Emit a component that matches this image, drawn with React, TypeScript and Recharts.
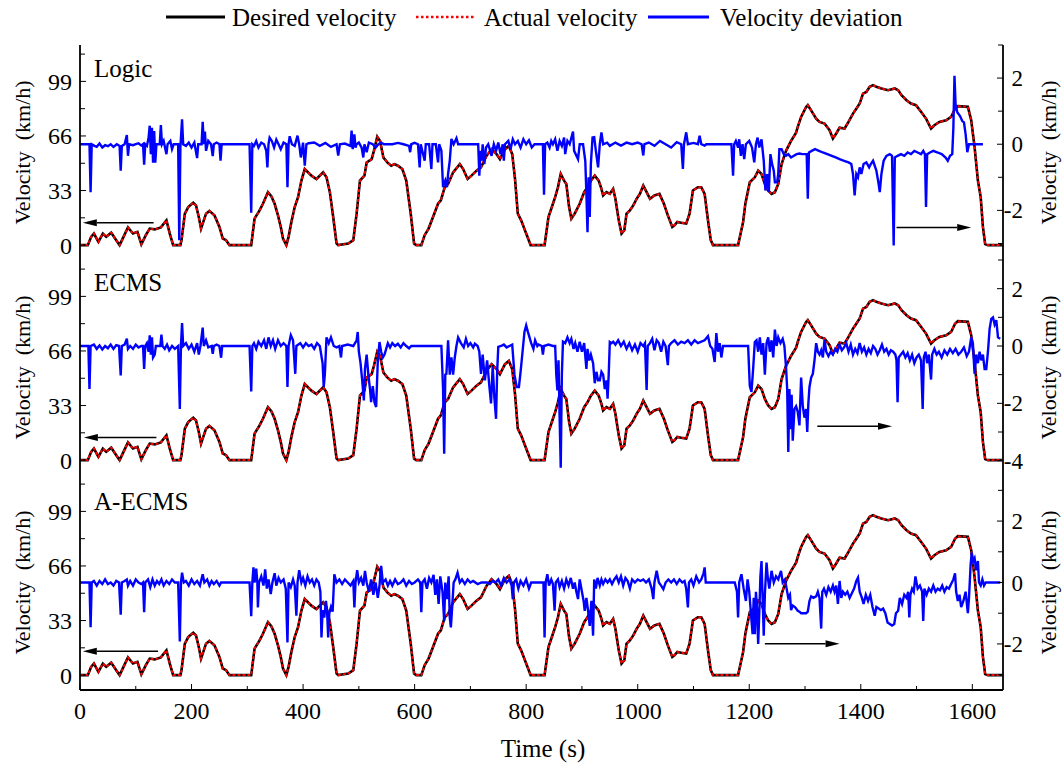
import React from 'react'
import { ComposedChart, Line, XAxis, YAxis, ReferenceLine } from 'recharts'

// axis ticks
const timeTicks = [0, 100, 200, 300, 400, 500, 600, 700, 800, 900, 1000, 1100, 1200, 1300, 1400, 1500, 1600]
const timeLabels = [0, 200, 400, 600, 800, 1000, 1200, 1400, 1600]
const speedTicks = [0, 16.5, 33, 49.5, 66, 82.5, 99, 115.5]
const speedLabels = [0, 33, 66, 99]
const panelNames = ['Logic', 'ECMS', 'A-ECMS']
const deviationDomains: [number, number][] = [[-3.5, 3], [-4.5, 3], [-3.5, 3.5]]
const deviationTicks = [
  [-3, -2, -1, 0, 1, 2, 3],
  [-4, -3, -2, -1, 0, 1, 2, 3],
  [-3, -2, -1, 0, 1, 2, 3],
]
const deviationLabels = [[-2, 0, 2], [-4, -2, 0, 2], [-2, 0, 2]]

// desired velocity (km/h) over time (s); the actual velocity tracks it
const speedProfile: [number, number][] = [
  [0, 0], [14, 0], [20, 5], [25, 7], [33, 2], [41, 7], [47, 5], [56, 7.5], [65, 3], [71, 0], [78, 5], [86, 10.7],
  [95, 7], [103, 8], [110, 0.5], [118, 6], [125, 10], [134, 9.5], [145, 10.7], [155, 15], [161, 7], [167, 0],
  [180, 0], [182, 3], [188, 19], [194, 23], [203, 25.6], [208, 24], [213, 17], [217, 10], [226, 19], [232, 20.7],
  [241, 18], [250, 11], [256, 4], [262, 3], [268, 0], [307, 0], [313, 16], [322, 21], [328, 25], [337, 32],
  [343, 29.6], [349, 25], [355, 18], [360, 11], [364, 4], [370, 0], [374, 5], [379, 14], [385, 23], [391, 29],
  [397, 39], [403, 46], [415, 42], [424, 40], [436, 44], [442, 41], [448, 32], [454, 17], [460, 1], [463, 0],
  [481, 1], [490, 3], [496, 19], [502, 39], [510, 42], [514, 50], [523, 52], [527, 57], [533, 65.5], [538, 63],
  [544, 53], [551, 50], [558, 48], [564, 49], [570, 48], [578, 46], [585, 39], [593, 19], [599, 1], [603, 0],
  [612, 0], [618, 6], [625, 10], [633, 17], [642, 25], [647, 27], [654, 35], [660, 37], [669, 44], [681, 49],
  [687, 46], [695, 40], [702, 42], [711, 45], [719, 47], [729, 54], [738, 58], [747, 55], [753, 52], [762, 58],
  [769, 60], [775, 55], [780, 40], [785, 19], [791, 15], [800, 7], [808, 0], [833, 0], [840, 17], [848, 25],
  [852, 29], [857, 35], [862, 43], [868, 39], [872, 37], [877, 23], [881, 16], [887, 19], [896, 25], [904, 32],
  [910, 35], [916, 39], [923, 42], [930, 39], [935, 34], [938, 30], [944, 32], [950, 31], [956, 34], [960, 28],
  [966, 15], [971, 7], [976, 9], [980, 19], [986, 21], [992, 24], [998, 28], [1004, 31], [1010, 36], [1016, 32],
  [1022, 28], [1030, 30], [1039, 31], [1047, 25], [1054, 18], [1062, 11], [1066, 12], [1071, 14], [1078, 13.5],
  [1087, 13], [1093, 19], [1099, 33], [1108, 35], [1114, 35], [1120, 31], [1126, 15], [1131, 3], [1135, 0],
  [1180, 0], [1189, 14], [1193, 25], [1201, 38], [1210, 41], [1216, 45], [1222, 43], [1228, 37], [1234, 33],
  [1240, 31], [1246, 32], [1252, 37], [1258, 49], [1266, 57], [1275, 63], [1284, 68], [1287, 71.5], [1293, 77.5],
  [1302, 83.5], [1305, 84.6], [1311, 81.5], [1320, 76.5], [1326, 74.5], [1335, 73.5], [1344, 69.5], [1350, 64.5],
  [1356, 67.5], [1362, 71], [1371, 70.5], [1378, 74.5], [1386, 79.5], [1392, 82.5], [1398, 85.6], [1404, 91.6],
  [1410, 92.6], [1416, 95.7], [1422, 96.7], [1428, 95.7], [1437, 94.7], [1449, 93.7], [1461, 94.7], [1467, 93.7],
  [1473, 90.6], [1482, 87.6], [1490, 85.6], [1499, 84.6], [1508, 80.6], [1517, 76.5], [1526, 70.5], [1532, 72.5],
  [1541, 74.5], [1553, 75.5], [1562, 77.5], [1569, 82.5], [1574, 84], [1592, 83.6], [1598, 75.5], [1604, 59.4],
  [1610, 39], [1615, 29], [1619, 11], [1623, 0.6], [1628, 0], [1655, 0],
]

// velocity deviation (km/h), one list per strategy
const logicDeviation: [number, number][] = [
  [0, 0], [17, 0], [19, -1.45], [21, 0], [26, -0.05], [30, -0.08], [35, 0.02], [40, -0.1], [45, -0.03], [50, -0.06],
  [55, 0], [60, -0.08], [66, 0], [71, -0.05], [73, -0.8], [75, -0.05], [80, 0], [84, 0.28], [86, -0.35], [88, 0],
  [95, -0.03], [100, 0], [105, 0.03], [110, -0.04], [113, 0], [115, -0.62], [117, 0], [120, -0.05], [123, 0.2],
  [125, 0.56], [127, -0.3], [129, 0.5], [131, -0.56], [133, 0.4], [135, -0.56], [137, 0], [143, 0], [145, 0.58],
  [147, 0], [150, 0.1], [155, -0.3], [157, 0], [162, 0.1], [165, -0.15], [168, 0], [176, 0], [178, -2.9],
  [180, -0.1], [183, 0.75], [185, 0], [190, -0.05], [195, 0.05], [200, -0.1], [205, 0.05], [210, -0.42], [212, 0],
  [218, 0], [220, 0.68], [222, 0], [224, 0.38], [226, -0.2], [230, 0.1], [235, 0], [238, -0.36], [240, 0],
  [245, 0.05], [250, 0], [252, -0.5], [254, 0], [304, 0], [307, -2.07], [309, 0], [312, -0.05], [316, 0.1],
  [320, -0.1], [325, 0.05], [330, 0], [334, -0.2], [336, -0.7], [338, 0], [340, 0.2], [344, 0.1], [348, -0.1],
  [352, 0.14], [356, 0], [360, -0.15], [365, 0.05], [370, 0], [372, -1.3], [374, 0], [376, 0.24], [380, 0],
  [385, -0.05], [390, 0.26], [393, 0], [396, -0.4], [400, 0.05], [403, -0.65], [406, 0], [410, 0.03], [420, 0.05],
  [430, -0.05], [440, 0.04], [450, -0.08], [460, 0], [463, -0.34], [466, 0], [475, 0.02], [485, -0.05], [487, 0.41],
  [489, -0.15], [492, 0.3], [494, -0.1], [496, 0], [500, 0.05], [505, -0.1], [508, -0.4], [510, 0], [514, -0.24],
  [518, 0.05], [525, 0], [530, -0.1], [535, 0], [540, 0.05], [545, 0], [560, 0], [570, 0.04], [580, 0], [590, -0.05],
  [592, -0.24], [594, 0], [600, 0.04], [606, 0], [609, -0.7], [611, 0], [618, -0.5], [620, 0], [626, 0], [630, -0.75],
  [632, 0], [638, 0], [642, -0.55], [644, 0], [648, -0.2], [651, -1.3], [655, -1.1], [658, -1.3], [660, -0.9],
  [663, -0.5], [666, 0.16], [670, 0], [675, 0.18], [678, 0], [714, 0], [716, -0.95], [718, -0.2], [720, -0.5],
  [722, 0], [725, -0.6], [728, -0.1], [732, 0], [738, -0.35], [742, 0], [746, -0.2], [750, 0.05], [754, -0.3],
  [758, 0], [760, -0.5], [762, 0], [768, 0.1], [772, -0.15], [776, 0.15], [780, 0], [785, 0.1], [790, -0.1],
  [795, 0.15], [800, 0], [805, 0.12], [810, -0.1], [815, 0], [830, 0], [832, -1.53], [834, 0], [838, 0.05],
  [842, -0.1], [845, 0.1], [848, 0], [852, 0.15], [856, -0.2], [860, 0.1], [864, -0.05], [868, 0.2], [870, -0.3],
  [874, 0.1], [878, 0], [884, 0.38], [886, -0.2], [893, -0.45], [896, 0], [902, 0], [906, -0.5], [908, -1.5],
  [910, -2.66], [912, -1.0], [914, -2.2], [916, -0.6], [919, 0.2], [922, 0.21], [925, -0.2], [929, -0.7], [932, 0],
  [935, 0.36], [938, 0], [945, 0.05], [950, -0.05], [960, 0.05], [970, -0.04], [980, 0.05], [990, 0], [1000, 0.05],
  [1007, 0], [1010, -0.34], [1012, 0], [1020, 0.05], [1030, -0.05], [1040, 0.1], [1050, 0], [1060, -0.1],
  [1070, 0.06], [1078, 0], [1081, -0.75], [1083, 0], [1087, 0.36], [1090, 0], [1100, 0.04], [1108, 0], [1111, 0.26],
  [1114, 0], [1120, -0.04], [1123, 0], [1168, 0], [1171, -0.95], [1173, 0], [1176, 0.1], [1180, -0.1], [1182, 0.15],
  [1185, -0.35], [1188, 0], [1191, -0.45], [1194, 0], [1200, 0.1], [1205, -0.1], [1209, -0.55], [1212, 0],
  [1215, 0.2], [1218, -0.1], [1222, 0.15], [1226, -0.5], [1229, -1.4], [1232, -0.9], [1235, -1.45], [1238, -0.3],
  [1241, -0.6], [1244, -0.8], [1246, -1.15], [1250, -1.15], [1252, -0.9], [1254, -0.15], [1258, -0.15],
  [1262, -0.3], [1266, -0.35], [1270, -0.3], [1275, -0.4], [1280, -0.35], [1285, -0.3], [1290, -0.28], [1295, -0.3],
  [1300, -0.3], [1303, -0.3], [1305, -1.65], [1307, -0.25], [1312, -0.2], [1318, -0.15], [1325, -0.2], [1332, -0.25],
  [1340, -0.3], [1348, -0.35], [1355, -0.4], [1362, -0.45], [1370, -0.5], [1378, -0.55], [1383, -0.6], [1386, -0.9],
  [1389, -1.55], [1392, -0.9], [1395, -1.0], [1398, -0.7], [1401, -0.9], [1405, -0.6], [1410, -0.55], [1415, -0.7],
  [1418, -0.6], [1422, -0.5], [1428, -0.8], [1432, -1.2], [1434, -1.45], [1437, -0.9], [1441, -0.5], [1446, -0.35],
  [1452, -0.3], [1456, -0.35], [1459, -3.06], [1461, -0.4], [1466, -0.35], [1472, -0.3], [1478, -0.35],
  [1484, -0.25], [1490, -0.3], [1496, -0.2], [1502, -0.25], [1508, -0.3], [1512, -0.2], [1515, -0.3], [1517, -1.9],
  [1519, -0.3], [1524, -0.25], [1530, -0.2], [1538, -0.25], [1545, -0.3], [1552, -0.4], [1556, -0.5], [1560, -0.35],
  [1564, -0.3], [1566, 0.5], [1568, 2.07], [1570, 1.2], [1573, 0.97], [1578, 0.85], [1582, 0.7], [1585, 0.66],
  [1588, 0.3], [1591, -0.24], [1594, 0], [1619, 0],
]

const ecmsDeviation: [number, number][] = [
  [0, 0], [15, 0], [17, -1.5], [19, 0], [25, 0.05], [30, -0.1], [35, 0.02], [40, -0.12], [45, 0], [50, -0.08],
  [55, 0.05], [60, -0.1], [65, 0.03], [70, 0], [73, -1.03], [75, 0], [80, 0.05], [84, 0.26], [86, -0.1], [90, 0],
  [95, -0.1], [100, 0.05], [105, -0.05], [110, 0], [113, 0], [115, -0.8], [117, 0], [120, 0.1], [123, -0.2],
  [125, 0.37], [127, -0.3], [129, 0.3], [131, -0.4], [134, -0.3], [136, 0], [144, 0], [146, 0.4], [148, 0],
  [152, -0.1], [156, 0.05], [160, -0.15], [165, 0], [170, -0.1], [176, 0], [179, -2.2], [181, 0], [183, 0.8],
  [185, 0], [190, 0.1], [195, -0.1], [200, 0.05], [205, -0.2], [210, 0.1], [213, -0.3], [216, 0], [220, 0.64],
  [222, 0], [226, 0.2], [230, -0.05], [236, 0], [238, -0.27], [240, 0], [245, 0.05], [250, 0], [253, -0.41],
  [255, 0], [304, 0], [307, -1.59], [309, 0], [312, 0.1], [316, -0.1], [320, 0.15], [325, 0], [330, 0.2],
  [334, -0.1], [338, 0.3], [342, 0], [346, 0.2], [350, -0.1], [355, 0.2], [360, 0], [365, 0.1], [370, 0],
  [372, -1.43], [374, 0], [378, 0.38], [382, 0.2], [386, -0.97], [388, 0], [395, 0.1], [400, -0.05], [405, 0.1],
  [410, 0], [415, 0.05], [420, -0.1], [425, 0.1], [430, 0], [435, -0.6], [437, -1.43], [439, -1.0], [442, 0.3],
  [446, 0.1], [450, 0.3], [455, 0], [460, -0.05], [465, 0], [468, -0.4], [470, 0], [480, 0.05], [490, 0],
  [496, 0.2], [498, 0.49], [500, -0.2], [503, -0.6], [506, -1.2], [509, -1.9], [511, -0.8], [514, -0.3],
  [517, -1.0], [520, -1.5], [522, -1.96], [525, -1.4], [528, -1.96], [531, -2.13], [534, -0.5], [537, 0.14],
  [540, -0.2], [543, -0.4], [546, -0.3], [549, -0.1], [552, 0.1], [556, -0.05], [560, 0.1], [565, 0], [570, 0.08],
  [575, -0.05], [580, 0.1], [585, 0], [590, -0.08], [594, 0], [648, 0], [651, -1.5], [653, -3.76], [655, -1.0],
  [657, -0.97], [660, 0.2], [663, -1.0], [666, -0.4], [669, -1.0], [672, -0.4], [675, 0], [678, 0.3], [683, 0.1],
  [688, -0.05], [692, 0.25], [696, 0], [700, 0.1], [705, -0.05], [708, 0.08], [713, 0], [716, -0.2], [719, -0.97],
  [722, -0.3], [726, -1.2], [730, -0.5], [734, -1.4], [737, -2.0], [740, -0.7], [743, -1.8], [746, -2.54],
  [748, -0.9], [750, -0.03], [755, 0], [760, 0.05], [765, -0.05], [770, 0], [775, 0.05], [779, -1.0], [783, -1.43],
  [787, -1.43], [790, -0.9], [793, -0.3], [797, 0.5], [800, 0.72], [803, 0.5], [806, 0.3], [809, 0.1], [813, -0.1],
  [816, 0.2], [820, 0], [822, 0.05], [828, 0], [830, -0.3], [832, 0], [840, 0.05], [848, 0], [852, 0], [854, -1.0],
  [856, -1.55], [858, -0.5], [860, -2.5], [862, -4.25], [864, -1.0], [866, 0.15], [870, 0.1], [874, 0.3],
  [878, 0.1], [881, 0.25], [885, -0.1], [888, 0.1], [892, -0.2], [896, 0.15], [900, -0.2], [904, 0.1], [908, -0.8],
  [910, -0.1], [913, -0.5], [916, -0.3], [920, -0.6], [923, -1.3], [926, -0.9], [929, -1.2], [932, -1.2],
  [935, -0.9], [938, -1.0], [941, -1.5], [944, -1.2], [946, -1.84], [948, -1.0], [950, 0.14], [953, 0.1],
  [956, 0.15], [960, 0.05], [965, 0.2], [970, 0], [975, 0.15], [980, -0.1], [985, 0.1], [990, -0.15], [995, 0.05],
  [1000, -0.2], [1005, 0.1], [1010, 0], [1013, 0.1], [1016, -1.53], [1018, 0], [1022, 0.1], [1026, 0.25],
  [1030, -0.15], [1034, 0.2], [1038, 0.1], [1042, -0.2], [1046, 0.15], [1050, 0], [1054, -0.67], [1056, 0],
  [1060, 0.1], [1066, 0.2], [1072, 0.05], [1078, 0.15], [1084, 0.1], [1090, 0.2], [1096, 0.05], [1102, 0.2],
  [1108, 0.1], [1114, 0.15], [1120, 0.2], [1126, 0.34], [1130, 0], [1134, -0.1], [1138, -0.56], [1141, 0.45],
  [1144, -0.2], [1147, 0.1], [1150, -0.4], [1153, 0], [1198, 0], [1201, -1.4], [1204, -1.6], [1207, -0.8],
  [1210, 0.14], [1213, 0.2], [1216, -0.2], [1219, 0.3], [1222, -0.3], [1225, 0.1], [1228, -1.0], [1231, 0.1],
  [1234, 0.3], [1237, -0.2], [1240, 0.2], [1243, -0.4], [1246, 0.57], [1249, 0], [1252, 0.3], [1256, 0.1],
  [1260, 0.25], [1263, 0], [1266, -0.75], [1268, -1.5], [1270, -3.7], [1272, -1.5], [1274, -2.9], [1276, -1.7],
  [1278, -3.3], [1281, -2.2], [1284, -2.1], [1287, -2.3], [1290, -2.77], [1293, -1.1], [1296, -2.1], [1299, -2.5],
  [1302, -2.2], [1304, -3.0], [1306, -2.0], [1308, -1.43], [1311, -1.1], [1314, -0.97], [1317, -0.5], [1320, 0.1],
  [1323, -0.2], [1326, -0.3], [1329, -0.15], [1332, -0.4], [1335, 0.22], [1338, -0.2], [1342, -0.35], [1346, -0.2],
  [1350, -0.3], [1354, -0.1], [1358, -0.2], [1362, 0.05], [1366, -0.15], [1370, -0.05], [1374, 0.1], [1378, -0.2],
  [1382, 0.05], [1386, -0.3], [1390, -0.1], [1394, -0.25], [1398, 0.1], [1402, -0.2], [1406, -0.05], [1410, -0.3],
  [1414, -0.1], [1418, -0.25], [1422, 0], [1426, -0.1], [1430, -0.3], [1434, -0.15], [1438, 0.05], [1442, -0.2],
  [1446, -0.1], [1450, -0.3], [1454, -0.15], [1458, -0.2], [1462, -0.3], [1464, -0.5], [1466, -1.96], [1468, -0.4],
  [1472, -0.3], [1476, -0.2], [1480, -0.4], [1484, -0.25], [1488, -0.5], [1492, -0.3], [1496, -0.6], [1500, -0.4],
  [1504, -0.3], [1508, -0.5], [1511, -2.2], [1513, -0.4], [1516, -0.2], [1519, -0.6], [1522, -0.3], [1526, -1.17],
  [1528, -0.3], [1532, -0.1], [1536, -0.3], [1540, -0.2], [1545, -0.4], [1550, -0.15], [1555, -0.3], [1560, -0.1],
  [1565, -0.25], [1570, -0.1], [1575, -0.3], [1580, -0.2], [1585, -0.05], [1590, -0.35], [1594, -0.2], [1598, 0.3],
  [1601, 0.1], [1604, -0.97], [1607, -0.3], [1610, -0.6], [1613, -0.2], [1616, -0.5], [1619, -0.3], [1622, -0.8],
  [1625, -0.8], [1628, -0.2], [1631, 0.6], [1634, 0.95], [1637, 1.0], [1640, 0.75], [1643, 0.9], [1646, 0.3],
  [1650, 0.25],
]

const aecmsDeviation: [number, number][] = [
  [0, 0], [17, 0], [19, -1.46], [21, 0], [25, 0.05], [30, -0.1], [35, 0.05], [40, -0.05], [45, 0.1], [50, -0.05],
  [55, 0], [60, -0.1], [65, 0.05], [70, 0], [73, -1.05], [75, 0], [80, 0.05], [84, 0.1], [86, -0.1], [90, 0.05],
  [95, -0.1], [100, 0.1], [105, 0], [110, -0.05], [113, 0], [115, -0.97], [117, 0], [122, 0.1], [126, -0.15],
  [130, 0.1], [134, -0.1], [138, 0.05], [142, -0.05], [146, 0.1], [150, -0.1], [155, 0.05], [160, -0.05],
  [165, 0.1], [170, 0], [176, 0], [179, -1.92], [181, 0], [183, 0.32], [186, 0], [190, 0.05], [195, -0.1],
  [200, 0.1], [205, -0.05], [210, 0.05], [215, -0.1], [220, 0.27], [223, 0], [228, 0.1], [232, -0.1], [236, 0.05],
  [240, -0.05], [245, 0.05], [250, -0.1], [253, 0], [304, 0], [307, -1.1], [309, 0], [311, 0.49], [313, 0],
  [316, 0.45], [318, 0], [319, -0.81], [321, 0], [325, 0.2], [329, -0.1], [332, 0.43], [335, -0.2], [338, 0.1],
  [342, -0.38], [345, 0], [349, 0.3], [352, -0.1], [356, 0.15], [360, 0], [365, 0.1], [369, -0.2], [372, -1.95],
  [374, 0], [378, -0.15], [382, 0.1], [385, -0.1], [388, -1.08], [390, 0], [393, 0.4], [397, 0], [400, 0.15],
  [404, -0.1], [408, 0.2], [412, 0], [416, 0.1], [420, -0.1], [424, 0.1], [428, 0], [431, -0.3], [433, -1.79],
  [435, -0.9], [438, -1.14], [441, -0.6], [443, -0.92], [445, -1.79], [447, -1.0], [450, -0.8], [453, -0.95],
  [456, 0.27], [460, 0], [465, 0.1], [470, -0.05], [475, 0.1], [480, 0], [485, -0.1], [490, 0.05], [492, -0.81],
  [494, 0], [497, 0.4], [500, 0], [504, 0.15], [508, -0.1], [511, 0.38], [514, 0], [518, -0.3], [522, 0.1],
  [526, -0.4], [530, 0], [534, -0.5], [537, -0.1], [540, 0.54], [543, 0], [548, 0.1], [552, -0.1], [556, 0.05],
  [560, -0.1], [565, 0.1], [570, -0.05], [575, 0], [580, 0.1], [585, -0.1], [590, 0.05], [595, -0.05], [600, 0],
  [606, 0.1], [610, 0], [612, -0.97], [614, 0], [618, 0.1], [622, -0.2], [626, 0.15], [630, 0], [634, 0.25],
  [637, -0.4], [640, 0.1], [643, -0.7], [646, 0.2], [650, -0.3], [653, -1.25], [655, 0], [658, -0.54], [661, 0.2],
  [663, -1.14], [665, -1.46], [667, -0.9], [670, 0], [673, 0.1], [677, 0.32], [681, 0], [685, 0.1], [690, -0.05],
  [695, 0.1], [700, 0], [705, 0.05], [713, -0.05], [720, 0], [730, 0], [735, -0.05], [740, 0.05], [745, 0],
  [750, 0.1], [755, -0.1], [760, 0.15], [765, 0], [770, 0.1], [774, -0.1], [776, -0.54], [778, 0], [782, 0.1],
  [786, -0.2], [790, 0.05], [795, -0.1], [800, 0.1], [805, -0.2], [809, 0], [831, 0], [833, -1.79], [835, 0],
  [838, 0.27], [841, -0.1], [845, 0.1], [848, -0.05], [851, -0.92], [853, 0], [857, 0.1], [860, -0.15], [864, 0.05],
  [868, -0.2], [872, 0.1], [876, -0.1], [880, 0.15], [884, -0.2], [887, 0], [890, -0.3], [893, -0.54], [896, 0.1],
  [900, -0.3], [903, -0.6], [905, -0.92], [908, -0.5], [911, -0.92], [914, -1.41], [917, -0.6], [920, -1.73],
  [922, 0.1], [925, -0.2], [928, 0.15], [932, -0.1], [935, 0.1], [938, -0.05], [942, 0.1], [946, 0], [950, 0.1],
  [954, -0.05], [958, 0.1], [962, 0.2], [966, 0], [970, 0.2], [974, -0.1], [978, 0.15], [982, 0.05], [986, -0.2],
  [990, 0.1], [995, 0], [1000, 0.1], [1005, 0.05], [1010, 0.1], [1015, 0], [1020, 0.1], [1025, -0.2], [1028, -0.54],
  [1030, 0], [1034, 0.38], [1038, 0], [1042, -0.1], [1046, -0.22], [1050, 0], [1055, 0.1], [1060, 0], [1065, 0.1],
  [1070, -0.05], [1075, 0.1], [1080, 0], [1084, 0.05], [1087, -0.2], [1090, -0.81], [1092, 0], [1096, 0.1],
  [1100, -0.1], [1105, 0.2], [1110, 0], [1114, 0.1], [1118, 0.3], [1120, 0.49], [1122, 0], [1129, 0], [1174, 0],
  [1178, -0.3], [1180, -1.14], [1182, 0], [1186, 0.27], [1190, -0.2], [1194, -0.6], [1197, 0.1], [1200, -0.3],
  [1203, -1.0], [1206, -1.68], [1208, -0.5], [1210, -1.68], [1212, -0.3], [1214, -0.9], [1216, -2.0], [1218, -1.0],
  [1220, 0.2], [1222, 0.7], [1224, -0.5], [1226, -1.73], [1228, -0.4], [1231, 0.65], [1233, 0.2], [1236, -0.2],
  [1240, 0.38], [1244, 0], [1248, 0.2], [1252, 0.1], [1257, 0.38], [1260, 0], [1264, 0.1], [1267, -0.2],
  [1270, -0.5], [1273, -0.4], [1275, -0.9], [1278, -0.75], [1282, -0.8], [1287, -0.92], [1290, -0.95], [1293, -1.0],
  [1298, -1.0], [1302, -1.0], [1305, -0.95], [1308, -0.6], [1311, -0.45], [1315, -0.5], [1320, -0.45], [1323, -0.3],
  [1326, -0.5], [1329, -1.5], [1331, -0.3], [1334, -0.2], [1338, -0.4], [1342, -0.15], [1346, -0.3], [1350, -0.1],
  [1353, -0.3], [1356, -0.1], [1359, -0.7], [1362, 0.05], [1365, -0.5], [1368, -0.3], [1372, -0.4], [1376, -0.3],
  [1380, -0.5], [1384, -0.35], [1388, -0.2], [1392, 0.05], [1395, 0.16], [1398, -0.3], [1402, -0.5], [1405, -0.7],
  [1409, -0.4], [1413, -0.6], [1417, -0.4], [1421, -0.8], [1425, -1.08], [1428, -0.8], [1432, -0.85], [1436, -0.9],
  [1440, -0.85], [1444, -1.0], [1448, -1.3], [1452, -1.35], [1456, -1.4], [1460, -1.35], [1463, -1.0],
  [1467, -0.92], [1470, -0.5], [1474, -0.7], [1478, -0.4], [1482, -0.5], [1485, -0.3], [1487, -1.14], [1489, -0.4],
  [1492, -0.2], [1495, -0.3], [1498, 0.2], [1502, -0.2], [1506, -0.1], [1510, -0.3], [1512, -1.25], [1514, -0.2],
  [1518, -0.4], [1522, -0.2], [1526, -0.3], [1530, -0.1], [1534, -0.3], [1538, -0.2], [1542, -0.25], [1546, -0.1],
  [1550, -0.3], [1554, -0.15], [1558, -0.2], [1562, -0.05], [1566, 0.1], [1569, 0.3], [1571, -0.3], [1574, -0.6],
  [1577, -0.4], [1580, -0.8], [1584, -0.6], [1588, -0.3], [1592, -1.0], [1594, -0.5], [1597, 0.6], [1599, 0.97],
  [1601, 0.7], [1604, 0.8], [1607, 0.4], [1610, 0.7], [1612, 0], [1615, -0.1], [1618, 0.1], [1621, -0.1],
  [1624, 0], [1650, 0],
]

const deviationSeries = [logicDeviation, ecmsDeviation, aecmsDeviation]

// arrows: [from time, to time, velocity level]
const leftArrows = [[132, 5, 13.5], [137, 7, 13.7], [140, 5, 14.5]]
const rightArrows = [[1464, 1598, 10.7], [1322, 1456, 20.5], [1228, 1362, 18.9]]

const W = 1064
const PANEL_H = 215
const panelTops = [45, 260, 475]
const FONT = '"Liberation Serif", "Times New Roman", serif'

const speedRows = speedProfile.map(([t, v]) => ({ t, desired: v, actual: v }))

function TimeTick(props: any) {
  const { x, y, payload, showLabel } = props
  const major = timeLabels.includes(payload.value)
  return (
    <g>
      <line x1={x} y1={y} x2={x} y2={y - (major ? 6 : 4)} stroke="#000" strokeWidth={1} />
      {showLabel && major && (
        <text x={x} y={y + 29} textAnchor="middle" fontSize={24} fill="#000">{payload.value}</text>
      )}
    </g>
  )
}

function SpeedTick(props: any) {
  const { x, y, payload } = props
  const major = speedLabels.includes(payload.value)
  return (
    <g>
      <line x1={x} y1={y} x2={x + (major ? 6 : 5)} y2={y} stroke="#000" strokeWidth={1} />
      {major && (
        <text x={x - 8} y={y} dy="0.35em" textAnchor="end" fontSize={24} fill="#000">{payload.value}</text>
      )}
    </g>
  )
}

function DeviationTick(props: any) {
  const { x, y, payload, labels } = props
  const major = labels.includes(payload.value)
  return (
    <g>
      <line x1={x} y1={y} x2={x - (major ? 6 : 5)} y2={y} stroke="#000" strokeWidth={1} />
      {major && (
        <text x={x + 20} y={y} dy="0.35em" textAnchor="end" fontSize={23} fill="#000">{payload.value}</text>
      )}
    </g>
  )
}

function Arrow(props: any) {
  const { x1, y1, x2, y2 } = props
  const dx = x2 - x1
  const dy = y2 - y1
  const len = Math.sqrt(dx * dx + dy * dy) || 1
  const ux = dx / len
  const uy = dy / len
  const head = 14
  const half = 3.5
  const bx = x2 - ux * head
  const by = y2 - uy * head
  return (
    <g>
      <line x1={x1} y1={y1} x2={bx} y2={by} stroke="#000" strokeWidth={1.5} />
      <polygon
        points={`${x2},${y2} ${bx - uy * half},${by + ux * half} ${bx + uy * half},${by - ux * half}`}
        fill="#000"
      />
    </g>
  )
}

function Panel({ index }: { index: number }) {
  const last = index === 2
  const devRows = deviationSeries[index].map(([t, d]) => ({ t, dev: d }))
  const axisLine = { stroke: '#000', strokeWidth: 1.8 }
  const la = leftArrows[index]
  const ra = rightArrows[index]
  return (
    <div style={{ position: 'absolute', left: 0, top: panelTops[index] - 2 }}>
      <ComposedChart
        width={W}
        height={PANEL_H + 2 + (last ? 62 : 2)}
        margin={{ top: 2, right: 0, bottom: last ? 0 : 2, left: 0 }}
      >
        <XAxis
          dataKey="t"
          type="number"
          domain={[0, 1655]}
          ticks={timeTicks}
          interval={0}
          allowDataOverflow
          height={last ? 62 : 0}
          tickSize={0}
          tickMargin={0}
          tickLine={false}
          axisLine={axisLine}
          tick={(p: any) => <TimeTick {...p} showLabel={last} />}
        />
        <XAxis
          xAxisId="top"
          orientation="top"
          type="number"
          domain={[0, 1655]}
          height={0}
          tick={false}
          tickLine={false}
          axisLine={axisLine}
        />
        <YAxis
          yAxisId="speed"
          orientation="left"
          width={80}
          type="number"
          domain={[-9, 121]}
          ticks={speedTicks}
          interval={0}
          allowDataOverflow
          tickSize={0}
          tickMargin={0}
          tickLine={false}
          axisLine={axisLine}
          tick={(p: any) => <SpeedTick {...p} />}
        />
        <YAxis
          yAxisId="dev"
          orientation="right"
          width={61}
          type="number"
          domain={deviationDomains[index]}
          ticks={deviationTicks[index]}
          interval={0}
          allowDataOverflow
          tickSize={0}
          tickMargin={0}
          tickLine={false}
          axisLine={axisLine}
          tick={(p: any) => <DeviationTick {...p} labels={deviationLabels[index]} />}
        />
        <Line
          data={speedRows}
          dataKey="desired"
          yAxisId="speed"
          type="linear"
          stroke="#000"
          strokeWidth={2.6}
          dot={false}
          isAnimationActive={false}
        />
        <Line
          data={speedRows}
          dataKey="actual"
          yAxisId="speed"
          type="linear"
          stroke="#ff0000"
          strokeWidth={2}
          strokeDasharray="3 2"
          dot={false}
          isAnimationActive={false}
        />
        <Line
          data={devRows}
          dataKey="dev"
          yAxisId="dev"
          type="linear"
          stroke="#0000ff"
          strokeWidth={2.4}
          dot={false}
          isAnimationActive={false}
        />
        <ReferenceLine
          yAxisId="speed"
          segment={[{ x: la[0], y: la[2] }, { x: la[1], y: la[2] }]}
          shape={(p: any) => <Arrow {...p} />}
        />
        <ReferenceLine
          yAxisId="speed"
          segment={[{ x: ra[0], y: ra[2] }, { x: ra[1], y: ra[2] }]}
          shape={(p: any) => <Arrow {...p} />}
        />
      </ComposedChart>
    </div>
  )
}

const nameBaselines = [77, 291, 510]

export default function App() {
  return (
    <div
      style={{
        position: 'absolute',
        left: 0,
        top: 0,
        width: W,
        height: 768,
        background: '#fff',
        fontFamily: FONT,
        overflow: 'hidden',
      }}
    >
      {[0, 1, 2].map((i) => (
        <Panel key={i} index={i} />
      ))}
      <svg
        width={W}
        height={768}
        style={{ position: 'absolute', left: 0, top: 0, pointerEvents: 'none', fontFamily: FONT }}
      >
        {/* legend */}
        <line x1={166} y1={17} x2={225} y2={17} stroke="#000" strokeWidth={3} />
        <text x={232} y={26} fontSize={25} fill="#000">Desired velocity</text>
        <line x1={416} y1={17} x2={474} y2={17} stroke="#ff0000" strokeWidth={2.5} strokeDasharray="2.5 2.5" />
        <text x={484} y={26} fontSize={25} fill="#000">Actual velocity</text>
        <line x1={648} y1={17} x2={709} y2={17} stroke="#0000ff" strokeWidth={3} />
        <text x={720} y={26} fontSize={25} fill="#000">Velocity deviation</text>

        {panelNames.map((name, i) => (
          <text key={name} x={94} y={nameBaselines[i]} fontSize={25} fill="#000">{name}</text>
        ))}

        {panelTops.map((top, i) => {
          const cy = top + PANEL_H / 2
          return (
            <g key={i}>
              <text
                x={22}
                y={cy}
                transform={`rotate(-90, 22, ${cy})`}
                textAnchor="middle"
                dy="0.35em"
                fontSize={22}
                fill="#000"
                style={{ whiteSpace: 'pre' }}
              >
                {'Velocity  (km/h)'}
              </text>
              <text
                x={1048}
                y={cy}
                transform={`rotate(-90, 1048, ${cy})`}
                textAnchor="middle"
                dy="0.35em"
                fontSize={22}
                fill="#000"
                style={{ whiteSpace: 'pre' }}
              >
                {'Velocity  (km/h)'}
              </text>
            </g>
          )
        })}

        <text x={543} y={757} textAnchor="middle" fontSize={25} fill="#000">Time (s)</text>
      </svg>
    </div>
  )
}
